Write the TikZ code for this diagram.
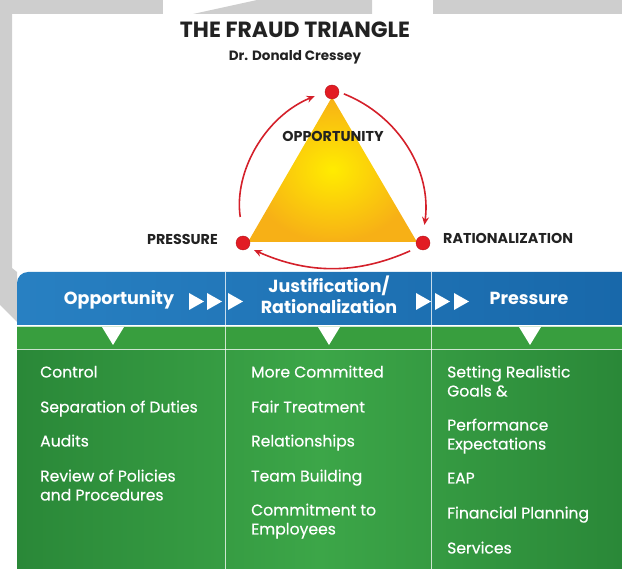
\documentclass[tikz,border=0pt]{standalone}
\usepackage{fontspec}
\setmainfont{Poppins}
\newfontfamily\itemfont[FakeBold=0.4]{Poppins}
\usetikzlibrary{arrows.meta}
\definecolor{wmgray}{RGB}{206,206,206}
\definecolor{inkgray}{RGB}{34,34,34}
\definecolor{dotred}{RGB}{226,28,36}
\definecolor{arcred}{RGB}{212,32,42}
\definecolor{triyellow}{RGB}{255,236,0}
\definecolor{triorange}{RGB}{247,176,22}
\definecolor{hdrblue}{RGB}{40,128,194}
\definecolor{hdrdark}{RGB}{24,104,170}
\definecolor{stripgreen}{RGB}{56,158,62}
\definecolor{bodygreen}{RGB}{60,166,72}
\definecolor{edgegreen}{RGB}{42,136,56}

\begin{document}
\begin{tikzpicture}[x=1pt, y=-1pt,
    dot/.style={circle, fill=dotred, draw=dotred!80!black, thin, inner sep=0pt, minimum size=14pt},
    cyc/.style={arcred, line width=1.6pt, -{Stealth[length=8pt, width=7pt]}},
    lbl/.style={text=inkgray, inner sep=0pt, font=\bfseries\fontsize{14.3}{16}\selectfont},
    hdr/.style={text=white, inner sep=0pt, anchor=base, align=center, font=\bfseries\fontsize{17.5}{21.5}\selectfont},
    item/.style={text=white, inner sep=0pt, anchor=base west, align=left, font=\itemfont\fontsize{15.6}{19}\selectfont},
    sep/.style={white, opacity=0.75, line width=0.9pt}]
    \useasboundingbox (0,0) rectangle (622,569);

    % grey frame behind everything
    \fill[wmgray] (0,0) rectangle (163,14);
    \fill[wmgray] (193,14) -- (257,0) -- (372,0) -- (372,14) -- cycle;
    \fill[wmgray] (433,0) rectangle (622,14);
    \fill[wmgray] (0,14) -- (12,14) -- (12,268) -- (17,272) -- (17,322) -- (0,305) -- cycle;

    % TOP: title
    \node[text=inkgray, anchor=base, font=\bfseries\fontsize{22}{26}\selectfont] (title) at (295,38) {THE FRAUD TRIANGLE};
    \node[text=inkgray, anchor=base, font=\bfseries\fontsize{13.5}{16}\selectfont] (subtitle) at (295,61) {Dr. Donald Cressey};

    % The triangle
    \shade[inner color=triyellow, outer color=triorange] (332,97) -- (417,242) -- (248,242) -- cycle;
    \node[dot] (odot) at (332,92) {};
    \node[dot] (pdot) at (243,243) {};
    \node[dot] (rdot) at (423,243) {};

    % Cycle arrows round it
    \draw[cyc, shorten <=19pt, shorten >=11pt] (pdot.north) to[bend left=38] (odot.west);
    \draw[cyc, shorten <=5pt, shorten >=11pt] (odot.east) to[bend left=38] (rdot.north);
    \draw[cyc, shorten <=8pt, shorten >=6pt] (rdot.-140) to[bend left=24] (pdot.-40);

    \node[lbl] (oplbl) at (333,136) {OPPORTUNITY};
    \node[lbl, anchor=east] (prlbl) at (218,239) {PRESSURE};
    \node[lbl, anchor=west] (ralbl) at (443,238) {RATIONALIZATION};

    % BOTTOM: the three columns
    \shade[left color=hdrblue, right color=hdrdark] (17,325) [rounded corners=11pt] -- (17,272) [sharp corners] -- (622,272) -- (622,325) -- cycle;
    \fill[stripgreen] (17,326) rectangle (622,349);
    \shade[left color=edgegreen, right color=edgegreen, middle color=bodygreen] (17,350) rectangle (622,569);
    \draw[sep] (17,326) -- (622,326);
    \draw[sep] (17,349.5) -- (622,349.5);
    \foreach \x in {225,431} {
        \draw[sep] (\x,272) -- (\x,569);
    }

    % markers in the headers
    \foreach \x in {113,329,530} {
        \fill[white] (\x-11,327) -- (\x+11,327) -- (\x,345) -- cycle;
    }
    \foreach \x in {189,207,228,416,435,454} {
        \fill[white] (\x,293) -- (\x+15,301.5) -- (\x,310) -- cycle;
    }

    % headers (multi-line nodes sit on their last baseline)
    \node[hdr] (hopp) at (119,305) {Opportunity};
    \node[hdr] (hjus) at (329,314) {Justification/\\Rationalization};
    \node[hdr] (hpre) at (529,305) {Pressure};

    % column items
    \node[item] (c1) at (40,377.5) {Control};
    \node[item] (c2) at (40,412.5) {Separation of Duties};
    \node[item] (c3) at (40,446.5) {Audits};
    \node[item] (c4) at (40,500.5) {Review of Policies\\and Procedures};

    \node[item] (j1) at (251,377.5) {More Committed};
    \node[item] (j2) at (251,412.5) {Fair Treatment};
    \node[item] (j3) at (251,446.5) {Relationships};
    \node[item] (j4) at (251,481.5) {Team Building};
    \node[item] (j5) at (251,534.5) {Commitment to\\Employees};

    \node[item] (p1) at (447,396.5) {Setting Realistic\\Goals \&};
    \node[item] (p2) at (447,449.5) {Performance\\Expectations};
    \node[item] (p3) at (447,483.5) {EAP};
    \node[item] (p4) at (447,518.5) {Financial Planning};
    \node[item] (p5) at (447,553.5) {Services};
\end{tikzpicture}
\end{document}
